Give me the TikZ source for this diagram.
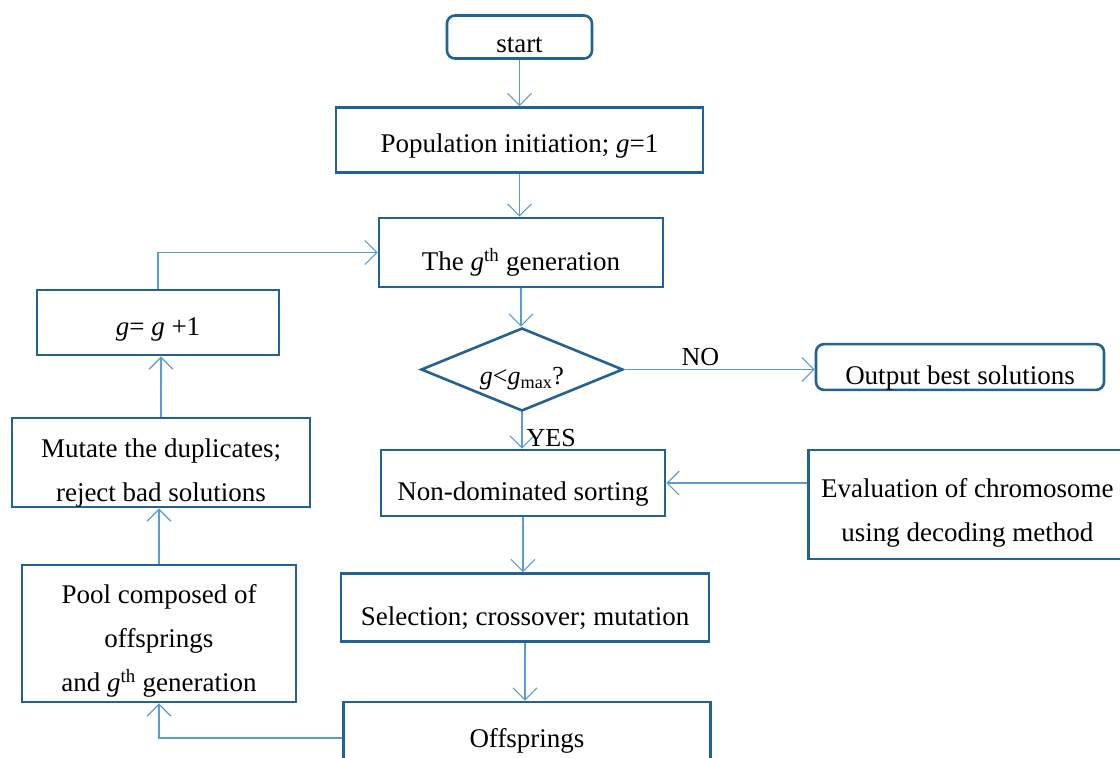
\documentclass[tikz,border=0pt]{standalone}
\usepackage{fontspec}
\setmainfont{Liberation Serif}
\usetikzlibrary{shapes.geometric,arrows.meta}
\definecolor{boxblue}{RGB}{34,98,148}
\definecolor{arrblue}{RGB}{91,155,213}
\newcommand\myrs[1]{\rule{0pt}{#1pt}}
\tikzset{
  box/.style={draw=boxblue,line width=2.6pt,rectangle,inner sep=0pt,align=center,font=\fontsize{27}{44}\selectfont},
  rbox/.style={box,rounded corners=8pt},
  dia/.style={draw=boxblue,line width=2.6pt,diamond,inner sep=0pt,aspect=2.5,font=\fontsize{26}{30}\selectfont},
  arr/.style={draw=arrblue,line width=1.4pt,-{Straight Barb[length=12pt,width=24pt,line width=1.2pt]}},
  lbl/.style={font=\fontsize{26}{30}\selectfont,inner sep=0pt}
}
\begin{document}
\begin{tikzpicture}[x=1pt,y=-1pt]
\useasboundingbox (0,0) rectangle (1120,758);
\node[rbox,minimum width=145pt,minimum height=43pt] (start) at (519.5,37) {\myrs{32}start};
\node[box,minimum width=367pt,minimum height=65pt] (pop) at (519.5,140) {\myrs{31}Population initiation; \textit{g}=1};
\node[box,minimum width=284pt,minimum height=69pt] (gen) at (521,252.5) {\myrs{41}The \textit{g}\textsuperscript{th} generation};
\node[dia,minimum width=202pt,minimum height=83pt] (cond) at (522,369.5) {\myrs{36}\textit{g}<\textit{g}\textsubscript{max}?};
\node[rbox,minimum width=288pt,minimum height=44pt] (out) at (960,367) {\myrs{40}Output best solutions};
\node[box,minimum width=284pt,minimum height=66pt] (nd) at (523,483) {\myrs{40}Non-dominated sorting};
\node[box,minimum width=318pt,minimum height=109pt,anchor=west] (ev) at (807,504.5) {\myrs{35}Evaluation of chromosome\\using decoding method};
\node[box,minimum width=368pt,minimum height=68pt] (sel) at (525,607.5) {\myrs{40}Selection; crossover; mutation};
\node[box,minimum width=367pt,minimum height=72pt] (off) at (527,738) {\myrs{24}Offsprings};
\node[box,minimum width=242pt,minimum height=65pt] (gp) at (158,322.5) {\myrs{31}\textit{g}= \textit{g} +1};
\node[box,minimum width=298pt,minimum height=89pt] (mut) at (161,462.5) {\myrs{39}Mutate the duplicates;\\reject bad solutions};
\node[box,minimum width=274pt,minimum height=137pt] (pool) at (159,633.5) {\myrs{33}Pool composed of\\offsprings\\and \textit{g}\textsuperscript{th} generation};
\draw[arr] (start.south) -- (start.south |- pop.north);
\draw[arr] (pop.south) -- (pop.south |- gen.north);
\draw[arr] (gen.south) -- (gen.south |- cond.north);
\draw[arr] (cond.south) -- node[lbl,right=4pt,pos=0.7] {YES} (cond.south |- nd.north);
\draw[arr] (cond.east) -- node[lbl,above=3pt,pos=0.4] {NO} (cond.east -| out.west);
\draw[arr] (ev.west |- nd.east) -- (nd.east);
\draw[arr] (nd.south) -- (nd.south |- sel.north);
\draw[arr] (sel.south) -- (sel.south |- off.north);
\draw[arr] (off.west) -| (pool.south);
\draw[arr] (pool.north) -- (pool.north |- mut.south);
\draw[arr] (mut.north) -- (mut.north |- gp.south);
\draw[arr] (gp.north) |- (gen.west);
\end{tikzpicture}
\end{document}
